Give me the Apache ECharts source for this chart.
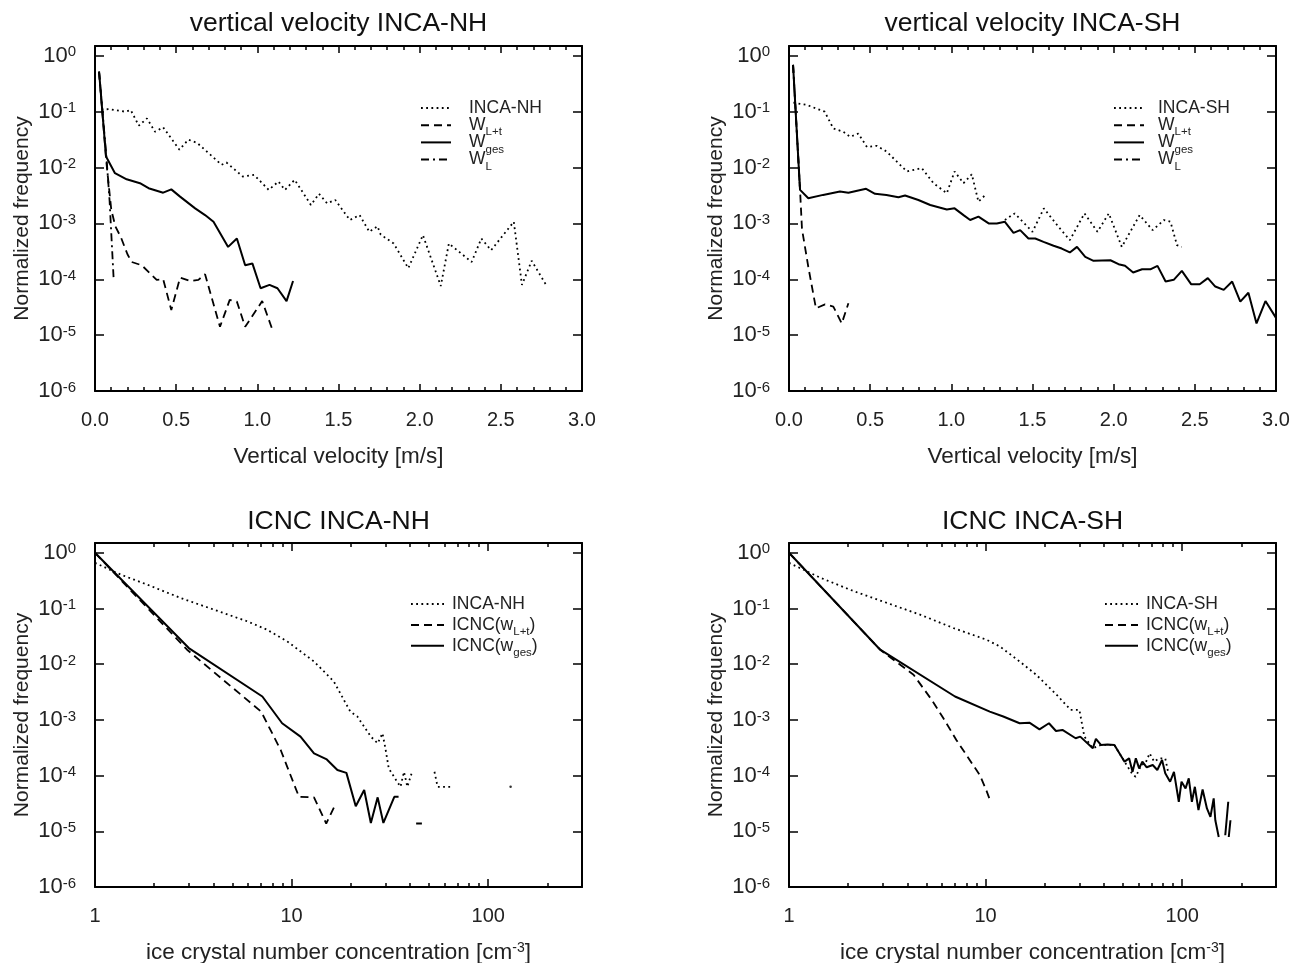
<!DOCTYPE html>
<html><head><meta charset="utf-8">
<script src="https://cdn.jsdelivr.net/npm/echarts@6/dist/echarts.min.js"></script>
<style>html,body{margin:0;padding:0;background:#fff}#c{width:1302px;height:963px}</style>
</head><body><div id="c"></div><script>
// ---------- DATA ----------
const titles = ['vertical velocity INCA-NH', 'vertical velocity INCA-SH', 'ICNC INCA-NH', 'ICNC INCA-SH'];
const freqTicks = [1e-6, 1e-5, 1e-4, 1e-3, 1e-2, 1e-1, 1];
const icncMajor = [1, 10, 100];
const icncMinor = [2, 3, 4, 5, 6, 7, 8, 9, 20, 30, 40, 50, 60, 70, 80, 90, 200];

// vertical velocity, NH  [w (m/s), normalized frequency]
const vvNH_inca = [[0.04,1.10e-1],[0.09,1.11e-1],[0.185,1.00e-1],[0.22,1.07e-1],[0.27,5.62e-2],[0.32,7.59e-2],[0.37,4.37e-2],[0.42,5.25e-2],[0.52,2.09e-2],[0.575,3.16e-2],[0.63,2.75e-2],[0.78,1.12e-2],[0.81,1.23e-2],[0.91,6.92e-3],[0.98,7.41e-3],[1.07,3.98e-3],[1.13,5.62e-3],[1.17,3.98e-3],[1.23,6.03e-3],[1.33,2.14e-3],[1.38,3.39e-3],[1.43,2.29e-3],[1.48,2.63e-3],[1.57,1.15e-3],[1.63,1.41e-3],[1.69,7.08e-4],[1.74,8.91e-4],[1.76,6.31e-4],[1.84,4.37e-4],[1.93,1.58e-4],[2.02,6.17e-4],[2.13,7.59e-5],[2.18,4.37e-4],[2.32,2.04e-4],[2.38,5.37e-4],[2.44,3.31e-4],[2.58,1.07e-3],[2.63,7.94e-5],[2.69,2.14e-4],[2.785,7.41e-5]];
const vvNH_wlt = [[0.025,5.2e-1],[0.07,1.26e-2],[0.1,1.78e-3],[0.125,8.9e-4],[0.16,5.6e-4],[0.2,2.8e-4],[0.226,2.04e-4],[0.288,1.78e-4],[0.38,9.77e-5],[0.42,1.0e-4],[0.47,2.82e-5],[0.524,1.07e-4],[0.585,9.33e-5],[0.637,9.77e-5],[0.678,1.23e-4],[0.77,1.41e-5],[0.83,4.27e-5],[0.874,3.98e-5],[0.925,1.41e-5],[1.03,4.07e-5],[1.09,1.32e-5]];
const vvNH_wges = [[0.025,5.2e-1],[0.068,1.58e-2],[0.123,7.94e-3],[0.195,6.17e-3],[0.277,5.25e-3],[0.33,4.27e-3],[0.42,3.55e-3],[0.47,4.07e-3],[0.524,3.02e-3],[0.617,1.86e-3],[0.678,1.41e-3],[0.73,1.07e-3],[0.82,3.8e-4],[0.874,5.37e-4],[0.925,1.78e-4],[0.97,1.91e-4],[1.02,6.92e-5],[1.075,7.94e-5],[1.124,6.92e-5],[1.18,4.07e-5],[1.22,9.33e-5]];
const vvNH_wl = [[0.025,5.2e-1],[0.07,1.6e-2],[0.09,2.5e-3],[0.115,1.0e-4]];

// vertical velocity, SH
const vvSH_inca = [[0.027,1.45e-1],[0.11,1.32e-1],[0.22,1.0e-1],[0.273,5.01e-2],[0.335,4.37e-2],[0.376,3.55e-2],[0.427,4.07e-2],[0.48,2.34e-2],[0.54,2.45e-2],[0.60,1.95e-2],[0.726,8.51e-3],[0.818,9.77e-3],[0.89,5.25e-3],[0.972,3.47e-3],[1.02,8.51e-3],[1.075,5.25e-3],[1.126,7.59e-3],[1.167,2.45e-3],[1.21,3.24e-3],[1.27,null],[1.33,1.15e-3],[1.39,1.51e-3],[1.50,7.08e-4],[1.57,1.86e-3],[1.66,8.71e-4],[1.73,5.01e-4],[1.82,1.51e-3],[1.90,7.08e-4],[1.97,1.51e-3],[2.05,3.8e-4],[2.16,1.41e-3],[2.24,7.59e-4],[2.31,1.15e-3],[2.35,1.07e-3],[2.39,4.07e-4],[2.42,3.8e-4]];
const vvSH_wlt = [[0.025,6.9e-1],[0.068,3.98e-3],[0.08,7.94e-4],[0.119,1.66e-4],[0.166,3.02e-5],[0.222,3.55e-5],[0.273,3.24e-5],[0.325,1.62e-5],[0.366,3.72e-5]];
const vvSH_wges = [[0.025,6.9e-1],[0.068,3.98e-3],[0.119,2.82e-3],[0.21,3.24e-3],[0.314,3.72e-3],[0.366,3.55e-3],[0.427,3.89e-3],[0.475,4.17e-3],[0.53,3.39e-3],[0.60,3.24e-3],[0.674,2.95e-3],[0.715,3.16e-3],[0.797,2.63e-3],[0.87,2.14e-3],[0.972,1.78e-3],[1.02,1.86e-3],[1.075,1.41e-3],[1.116,1.15e-3],[1.167,1.32e-3],[1.23,1.0e-3],[1.28,1.0e-3],[1.33,1.07e-3],[1.383,6.76e-4],[1.424,7.59e-4],[1.475,5.37e-4],[1.517,5.37e-4],[1.568,4.68e-4],[1.63,3.98e-4],[1.68,3.55e-4],[1.73,3.02e-4],[1.774,3.8e-4],[1.825,2.51e-4],[1.876,2.14e-4],[1.98,2.19e-4],[2.03,1.86e-4],[2.07,1.74e-4],[2.12,1.32e-4],[2.175,1.51e-4],[2.226,1.51e-4],[2.27,1.74e-4],[2.32,9.12e-5],[2.37,9.77e-5],[2.42,1.41e-4],[2.478,8.13e-5],[2.53,8.13e-5],[2.58,1.05e-4],[2.626,7.41e-5],[2.678,6.46e-5],[2.73,9.12e-5],[2.78,3.98e-5],[2.83,5.75e-5],[2.88,1.62e-5],[2.935,4.07e-5],[3.0,2.04e-5]];
const vvSH_wl = [[0.025,6.9e-1],[0.068,3.98e-3]];

// ice crystal number concentration, NH  [ICNC (cm-3), normalized frequency]
const icNH_inca = [[1,6.6e-1],[1.35,4.07e-1],[1.84,2.69e-1],[2.72,1.55e-1],[4.02,9.55e-2],[5.95,5.89e-2],[7.5,4.17e-2],[9.5,2.57e-2],[13.0,1.12e-2],[16.4,4.9e-3],[18.5,2.24e-3],[19.9,1.41e-3],[21.6,1.15e-3],[25.3,5.01e-4],[27.4,3.8e-4],[29.0,5.75e-4],[30.0,3.09e-4],[31.2,1.35e-4],[34.4,7.76e-5],[35.8,6.3e-5],[37.3,1.17e-4],[38.8,6.3e-5],[41.0,1.17e-4],[47,null],[53.3,1.17e-4],[55.3,6.3e-5],[65.8,6.3e-5]];
const icNH_incaIsolated = [[130,6.3e-5]];
const icNH_wlt = [[1,1.0],[2.94,1.82e-2],[7.0,1.41e-3],[8.8,2.88e-4],[10.9,4.17e-5],[13.0,4.07e-5],[15.0,1.38e-5],[16.8,3.16e-5],[30,null],[43,1.38e-5],[46,1.38e-5]];
const icNH_wges = [[1,1.0],[3.0,1.95e-2],[7.1,2.63e-3],[8.95,8.71e-4],[11.1,5.01e-4],[13.0,2.51e-4],[15.1,1.95e-4],[17.1,1.26e-4],[19.0,1.12e-4],[21.2,2.82e-5],[23.4,5.5e-5],[25.3,1.41e-5],[27.4,4.07e-5],[29.3,1.41e-5],[33.3,4.17e-5],[35,4.17e-5]];

// ice crystal number concentration, SH
const icSH_inca = [[1,6.6e-1],[1.45,3.55e-1],[2.14,2.04e-1],[3.15,1.26e-1],[4.64,7.76e-2],[6.85,4.47e-2],[10.1,2.75e-2],[11.8,2.09e-2],[14.9,1.12e-2],[18.1,6.46e-3],[23.0,2.82e-3],[27.1,1.51e-3],[30.0,1.51e-3],[31.8,5.01e-4],[35.1,3.09e-4],[38.6,3.55e-4],[45.2,3.55e-4],[50.9,1.78e-4],[55.9,1.05e-4],[58.0,9.55e-5],[62.0,1.55e-4],[65.0,1.66e-4],[68.3,2.51e-4],[72.0,1.78e-4],[76.4,2.04e-4],[82.0,2.04e-4],[85.0,1.12e-4]];
const icSH_wlt = [[1,1.0],[2.91,1.82e-2],[4.3,6.46e-3],[5.32,2.29e-3],[6.1,1.07e-3],[7.1,4.37e-4],[8.3,1.91e-4],[9.35,1.02e-4],[10.1,5.37e-5],[10.6,3.39e-5]];
const icSH_wges = [[1,1.0],[2.91,1.82e-2],[6.99,2.63e-3],[10.5,1.41e-3],[12.3,1.15e-3],[14.9,8.71e-4],[16.7,8.91e-4],[18.8,6.76e-4],[21.0,8.71e-4],[22.8,6.31e-4],[24.6,6.61e-4],[28.7,4.68e-4],[30.3,5.01e-4],[35.1,3.09e-4],[36.4,4.57e-4],[38.6,3.55e-4],[41.7,3.63e-4],[45.2,3.55e-4],[50.9,1.78e-4],[53.7,2.04e-4],[55.9,1.17e-4],[58.1,2.04e-4],[60.4,1.35e-4],[62.7,1.78e-4],[66,1.41e-4],[70.8,1.55e-4],[74.7,1.26e-4],[79.0,1.91e-4],[82.0,1.1e-4],[86.8,7.76e-5],[90.8,1.17e-4],[96.1,3.39e-5],[99.2,7.76e-5],[104,5.89e-5],[108,8.91e-5],[112,3.39e-5],[116,6.3e-5],[121,2.4e-5],[127,5.62e-5],[133.6,2.57e-5],[139.2,1.82e-5],[144.6,3.89e-5],[147.4,1.58e-5],[153.4,7.9e-6],[160,null],[165.6,8.5e-6],[171.5,3.39e-5],[172,null],[172.5,7.9e-6],[176,1.58e-5]];

// ---------- STYLE ----------
const FONT = '"Liberation Sans", Arial, Helvetica, sans-serif';
const TXT = '#222';
const grids = [
  {left: 95, top: 46, width: 487, height: 345},
  {left: 789, top: 46, width: 487, height: 345},
  {left: 95, top: 543, width: 487, height: 344},
  {left: 789, top: 543, width: 487, height: 344}
];
const axLine = {show: true, onZero: false, lineStyle: {color: '#000', width: 2}};
const tickLS = {color: '#000', width: 1.5};
const DOT = [1.8, 3.4], DASH = [8, 5], DASHDOT = [8, 4, 2, 4];

const yLabelRich = {
  b: {fontSize: 22, lineHeight: 22, color: TXT, fontFamily: FONT},
  s: {fontSize: 15, lineHeight: 12, verticalAlign: 'top', color: TXT, fontFamily: FONT}
};
function yFmt(v) {
  const e = Math.round(Math.log10(v));
  return '{b|10}{s|' + e + '}';
}

const xAxes = [], yAxes = [];
for (let g = 0; g < 4; g++) {
  const isVV = g < 2;
  const common = {gridIndex: g, position: 'bottom', axisLine: axLine, splitLine: {show: false},
    nameLocation: 'middle', nameGap: 54, nameMoveOverlap: false,
    nameTextStyle: {fontSize: 22.5, color: TXT, fontFamily: FONT,
      rich: {n: {fontSize: 22.5, color: TXT, fontFamily: FONT}, s: {fontSize: 14, lineHeight: 12, verticalAlign: 'top', color: TXT, fontFamily: FONT}}}};
  if (isVV) {
    xAxes.push(Object.assign({}, common, {type: 'value', min: 0, max: 3, interval: 0.5,
      axisTick: {show: true, inside: true, length: 7, lineStyle: tickLS},
      minorTick: {show: true, splitNumber: 5, length: 4, lineStyle: tickLS},
      axisLabel: {margin: 19, fontSize: 20, color: TXT, fontFamily: FONT, formatter: v => v.toFixed(1)},
      name: 'Vertical velocity [m/s]'}));
  } else {
    xAxes.push(Object.assign({}, common, {type: 'log', logBase: 10, min: 1, max: 300,
      axisTick: {show: true, inside: true, length: 8, customValues: icncMajor, lineStyle: tickLS},
      minorTick: {show: false},
      axisLabel: {margin: 19, fontSize: 20, color: TXT, fontFamily: FONT, customValues: icncMajor, formatter: v => String(Math.round(v))},
      name: '{n|ice crystal number concentration [cm}{s|-3}{n|]}'}));
  }
}
for (let g = 0; g < 4; g++) {
  const isVV = g < 2;
  if (isVV) {
    xAxes.push({gridIndex: g, type: 'value', position: 'top', min: 0, max: 3, interval: 0.5, axisLine: axLine,
      axisTick: {show: true, inside: true, length: 7, lineStyle: tickLS},
      minorTick: {show: true, splitNumber: 5, length: 4, lineStyle: tickLS},
      axisLabel: {show: false}, splitLine: {show: false}});
  } else {
    xAxes.push({gridIndex: g, type: 'log', logBase: 10, position: 'top', min: 1, max: 300, axisLine: axLine,
      axisTick: {show: true, inside: true, length: 8, customValues: icncMajor, lineStyle: tickLS},
      axisLabel: {show: false}, splitLine: {show: false}});
  }
}
for (let g = 2; g < 4; g++) {
  for (const pos of ['bottom', 'top']) {
    xAxes.push({gridIndex: g, type: 'log', logBase: 10, position: pos, min: 1, max: 300, axisLine: {show: false, onZero: false},
      axisTick: {show: true, inside: true, length: 4, customValues: icncMinor, lineStyle: tickLS},
      axisLabel: {show: false}, splitLine: {show: false}});
  }
}
for (let g = 0; g < 4; g++) {
  yAxes.push({gridIndex: g, type: 'log', logBase: 10, position: 'left', min: 1e-6, max: 1.5, axisLine: axLine,
    axisTick: {show: true, inside: true, length: 9, customValues: freqTicks, lineStyle: tickLS},
    axisLabel: {customValues: freqTicks, margin: 19, formatter: yFmt, rich: yLabelRich},
    splitLine: {show: false}, name: 'Normalized frequency', nameLocation: 'middle', nameGap: 62, nameMoveOverlap: false,
    nameTextStyle: {fontSize: 21, color: TXT, fontFamily: FONT}});
}
for (let g = 0; g < 4; g++) {
  yAxes.push({gridIndex: g, type: 'log', logBase: 10, position: 'right', min: 1e-6, max: 1.5, axisLine: axLine,
    axisTick: {show: true, inside: true, length: 9, customValues: freqTicks, lineStyle: tickLS},
    axisLabel: {show: false}, splitLine: {show: false}});
}

function line(name, data, g, type) {
  return {type: 'line', name: name, data: data, xAxisIndex: g, yAxisIndex: g, symbol: 'none',
    connectNulls: false, silent: true, animation: false,
    lineStyle: {color: '#000', width: type === 'solid' ? 2 : 1.8, type: type},
    itemStyle: {color: '#000'}};
}
const series = [
  line('NH INCA', vvNH_inca, 0, DOT), line('NH WLt', vvNH_wlt, 0, DASH), line('NH Wges', vvNH_wges, 0, 'solid'), line('NH WL', vvNH_wl, 0, DASHDOT),
  line('SH INCA', vvSH_inca, 1, DOT), line('SH WLt', vvSH_wlt, 1, DASH), line('SH Wges', vvSH_wges, 1, 'solid'), line('SH WL', vvSH_wl, 1, DASHDOT),
  line('cNH INCA', icNH_inca, 2, DOT), line('cNH Lt', icNH_wlt, 2, DASH), line('cNH ges', icNH_wges, 2, 'solid'),
  {type: 'scatter', name: 'cNH INCA pt', data: icNH_incaIsolated, xAxisIndex: 2, yAxisIndex: 2, symbolSize: 2.5, itemStyle: {color: '#000'}, silent: true, animation: false},
  line('cSH INCA', icSH_inca, 3, DOT), line('cSH Lt', icSH_wlt, 3, DASH), line('cSH ges', icSH_wges, 3, 'solid')
];

const legendText = {
  'NH INCA': '{a|INCA-NH}{sub| }', 'NH WLt': '{a|W}{sub|L+t}', 'NH Wges': '{a|W}{sub|ges}', 'NH WL': '{a|W}{sub|L}',
  'SH INCA': '{b|INCA-SH}{sub| }', 'SH WLt': '{b|W}{sub|L+t}', 'SH Wges': '{b|W}{sub|ges}', 'SH WL': '{b|W}{sub|L}',
  'cNH INCA': '{c|INCA-NH}{sub| }', 'cNH Lt': '{c|ICNC(w}{sub|L+t}{t|)}', 'cNH ges': '{c|ICNC(w}{sub|ges}{t|)}',
  'cSH INCA': '{c|INCA-SH}{sub| }', 'cSH Lt': '{c|ICNC(w}{sub|L+t}{t|)}', 'cSH ges': '{c|ICNC(w}{sub|ges}{t|)}'
};
const LF = 17.5;
const lrich = {
  a: {fontSize: LF, lineHeight: 16, color: TXT, fontFamily: FONT, padding: [0, 0, 0, 13]},
  b: {fontSize: LF, lineHeight: 16, color: TXT, fontFamily: FONT, padding: [0, 0, 0, 9]},
  c: {fontSize: LF, lineHeight: 16, color: TXT, fontFamily: FONT, padding: [0, 0, 0, 3]},
  t: {fontSize: LF, lineHeight: 16, color: TXT, fontFamily: FONT},
  sub: {fontSize: 11.5, lineHeight: 4, verticalAlign: 'top', padding: [9, 0, 0, 0], color: TXT, fontFamily: FONT}
};
function mkLegend(names, left, top, w, gap) {
  return {data: names, orient: 'vertical', left: left, top: top, padding: 0, itemWidth: w, itemHeight: 10, itemGap: gap,
    selectedMode: false, formatter: n => legendText[n], textStyle: {rich: lrich, fontFamily: FONT},
    itemStyle: {opacity: 0, color: 'transparent', borderColor: 'transparent'}};
}
const legends = [
  mkLegend(['NH INCA', 'NH WLt', 'NH Wges', 'NH WL'], 420, 99, 30, -4.8),
  mkLegend(['SH INCA', 'SH WLt', 'SH Wges', 'SH WL'], 1113, 99, 30, -4.8),
  mkLegend(['cNH INCA', 'cNH Lt', 'cNH ges'], 410, 595, 33, -1.1),
  mkLegend(['cSH INCA', 'cSH Lt', 'cSH ges'], 1104, 595, 33, -1.1)
];

const titleOpts = titles.map((t, i) => ({
  text: t, left: grids[i].left + grids[i].width / 2, top: i < 2 ? 10 : 508, textAlign: 'center', padding: 0,
  textStyle: {fontSize: 26.5, fontWeight: 'normal', color: '#111', fontFamily: FONT}
}));

const chart = echarts.init(document.getElementById('c'), null, {renderer: 'canvas'});
chart.setOption({
  backgroundColor: '#fff',
  animation: false,
  title: titleOpts,
  grid: grids.map(g => Object.assign({outerBoundsMode: 'none', containLabel: false}, g)),
  xAxis: xAxes,
  yAxis: yAxes,
  legend: legends,
  series: series
});
</script></body></html>
